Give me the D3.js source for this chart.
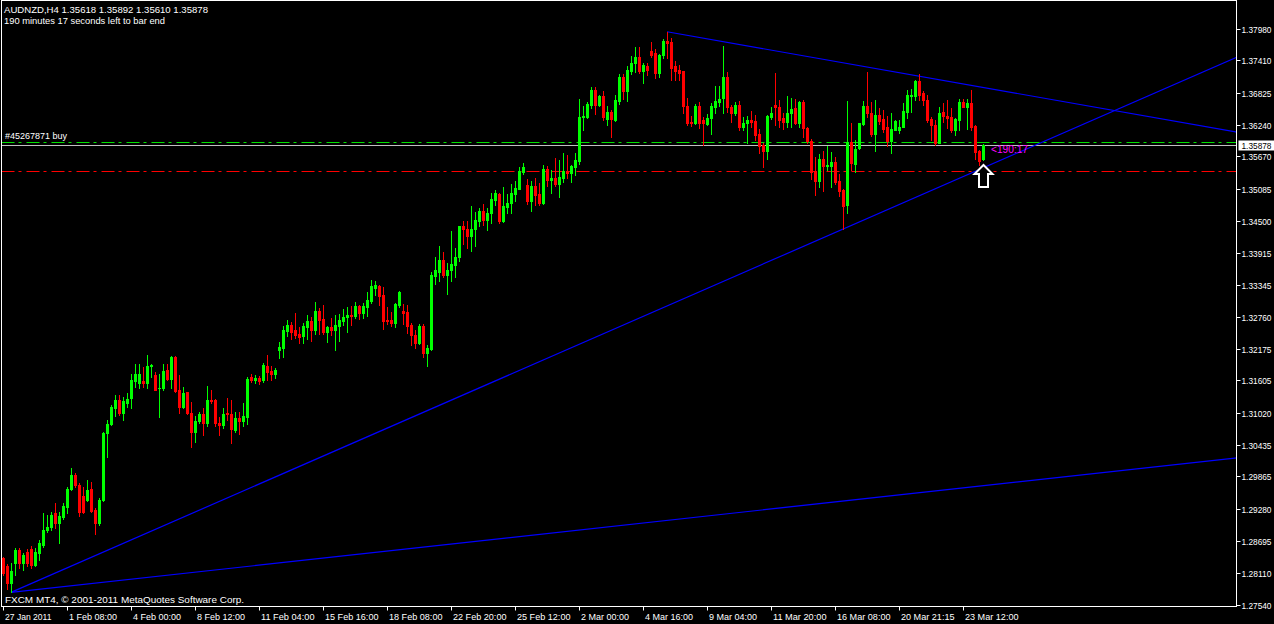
<!DOCTYPE html>
<html><head><meta charset="utf-8">
<script src="https://cdn.jsdelivr.net/npm/d3@7"></script>
<style>html,body{margin:0;padding:0;background:#000;overflow:hidden}svg{display:block}</style>
</head><body>
<svg id="c" width="1274" height="624"></svg>
<script>
// ---- data (AUDNZD H4) ----
const open=[1.2838,1.2823,1.2793,1.2829,1.2853,1.2829,1.2850,1.2854,1.2826,1.2847,
1.2862,1.2889,1.2895,1.2920,1.2902,1.2913,1.2931,1.2963,1.2989,1.2970,
1.2950,1.2944,1.2964,1.2926,1.2901,1.2944,1.3065,1.3081,1.3110,1.3125,
1.3101,1.3120,1.3128,1.3160,1.3155,1.3160,1.3155,1.3187,1.3170,1.3146,
1.3146,1.3179,1.3163,1.3203,1.3143,1.3113,1.3139,1.3101,1.3067,1.3086,
1.3100,1.3084,1.3125,1.3125,1.3084,1.3080,1.3102,1.3100,1.3071,1.3092,
1.3086,1.3095,1.3167,1.3161,1.3165,1.3161,1.3187,1.3178,1.3172,1.3216,
1.3220,1.3250,1.3261,1.3252,1.3245,1.3241,1.3258,1.3268,1.3252,1.3287,
1.3272,1.3249,1.3257,1.3252,1.3260,1.3268,1.3275,1.3279,1.3278,1.3295,
1.3282,1.3294,1.3305,1.3329,1.3332,1.3316,1.3270,1.3270,1.3265,1.3297,
1.3287,1.3285,1.3261,1.3243,1.3228,1.3259,1.3211,1.3217,1.3350,1.3358,
1.3379,1.3352,1.3360,1.3370,1.3384,1.3441,1.3436,1.3423,1.3436,1.3450,
1.3468,1.3452,1.3464,1.3488,1.3499,1.3450,1.3476,1.3482,1.3499,1.3508,
1.3539,1.3515,1.3486,1.3513,1.3499,1.3482,1.3544,1.3524,1.3527,1.3517,
1.3528,1.3540,1.3536,1.3548,1.3559,1.3638,1.3639,1.3660,1.3687,1.3660,
1.3677,1.3635,1.3648,1.3633,1.3668,1.3711,1.3686,1.3721,1.3736,1.3747,
1.3722,1.3731,1.3758,1.3755,1.3719,1.3750,1.3776,1.3774,1.3731,1.3724,
1.3721,1.3658,1.3630,1.3628,1.3658,1.3633,1.3626,1.3636,1.3657,1.3666,
1.3672,1.3711,1.3656,1.3646,1.3660,1.3620,1.3627,1.3633,1.3632,1.3608,
1.3588,1.3577,1.3639,1.3660,1.3657,1.3637,1.3630,1.3645,1.3654,1.3628,
1.3666,1.3618,1.3595,1.3541,1.3523,1.3562,1.3550,1.3550,1.3557,1.3523,
1.3506,1.3479,1.3593,1.3554,1.3582,1.3626,1.3658,1.3646,1.3608,1.3642,
1.3634,1.3620,1.3595,1.3615,1.3615,1.3621,1.3648,1.3677,1.3677,1.3704,
1.3681,1.3670,1.3634,1.3624,1.3592,1.3648,1.3640,1.3639,1.3614,1.3633,
1.3666,1.3657,1.3664,1.3622,1.3577,1.35618];
const high=[1.2841,1.2827,1.2830,1.2856,1.2856,1.2847,1.2854,1.2860,1.2856,1.2871,
1.2920,1.2916,1.2922,1.2938,1.2921,1.2938,1.2968,1.3001,1.2993,1.2974,
1.2968,1.2980,1.2977,1.2929,1.2947,1.3067,1.3089,1.3116,1.3134,1.3134,
1.3131,1.3137,1.3173,1.3190,1.3191,1.3185,1.3207,1.3190,1.3176,1.3173,
1.3191,1.3191,1.3205,1.3205,1.3170,1.3149,1.3140,1.3122,1.3096,1.3104,
1.3110,1.3150,1.3143,1.3126,1.3095,1.3110,1.3128,1.3125,1.3104,1.3104,
1.3120,1.3167,1.3172,1.3170,1.3168,1.3192,1.3207,1.3187,1.3183,1.3231,
1.3259,1.3270,1.3266,1.3282,1.3257,1.3265,1.3279,1.3276,1.3303,1.3292,
1.3297,1.3259,1.3274,1.3279,1.3281,1.3290,1.3294,1.3296,1.3303,1.3297,
1.3301,1.3321,1.3343,1.3341,1.3334,1.3330,1.3294,1.3285,1.3301,1.3323,
1.3299,1.3297,1.3265,1.3252,1.3263,1.3263,1.3225,1.3357,1.3384,1.3404,
1.3393,1.3373,1.3432,1.3401,1.3441,1.3450,1.3450,1.3477,1.3466,1.3473,
1.3480,1.3473,1.3500,1.3506,1.3500,1.3511,1.3499,1.3517,1.3522,1.3548,
1.3555,1.3526,1.3522,1.3528,1.3519,1.3551,1.3550,1.3542,1.3564,1.3560,
1.3573,1.3569,1.3551,1.3573,1.3671,1.3658,1.3666,1.3693,1.3693,1.3678,
1.3686,1.3658,1.3651,1.3678,1.3716,1.3716,1.3731,1.3749,1.3765,1.3765,
1.3736,1.3736,1.3774,1.3762,1.3753,1.3780,1.3793,1.3782,1.3740,1.3733,
1.3722,1.3673,1.3640,1.3662,1.3666,1.3638,1.3644,1.3664,1.3695,1.3695,
1.3768,1.3720,1.3660,1.3666,1.3667,1.3638,1.3640,1.3649,1.3642,1.3616,
1.3591,1.3642,1.3656,1.3718,1.3669,1.3645,1.3677,1.3672,1.3671,1.3668,
1.3669,1.3621,1.3598,1.3566,1.3571,1.3577,1.3586,1.3574,1.3566,1.3535,
1.3507,1.3667,1.3627,1.3597,1.3628,1.3668,1.3720,1.3666,1.3669,1.3654,
1.3651,1.3640,1.3645,1.3633,1.3633,1.3663,1.3687,1.3690,1.3706,1.3716,
1.3686,1.3678,1.3639,1.3633,1.3656,1.3663,1.3669,1.3654,1.3636,1.3671,
1.3671,1.3671,1.3687,1.3624,1.3578,1.35892];
const low=[1.2808,1.2783,1.2776,1.2808,1.2820,1.2817,1.2823,1.2820,1.2823,1.2834,
1.2858,1.2886,1.2889,1.2892,1.2866,1.2909,1.2920,1.2962,1.2968,1.2915,
1.2920,1.2941,1.2922,1.2882,1.2898,1.2941,1.3021,1.3080,1.3096,1.3098,
1.3088,1.3113,1.3110,1.3149,1.3146,1.3149,1.3146,1.3167,1.3143,1.3094,
1.3144,1.3161,1.3146,1.3140,1.3101,1.3110,1.3100,1.3039,1.3049,1.3083,
1.3061,1.3077,1.3119,1.3078,1.3061,1.3075,1.3089,1.3047,1.3067,1.3063,
1.3077,1.3081,1.3158,1.3156,1.3154,1.3158,1.3161,1.3161,1.3165,1.3201,
1.3203,1.3241,1.3236,1.3238,1.3228,1.3228,1.3236,1.3232,1.3245,1.3245,
1.3245,1.3231,1.3243,1.3216,1.3232,1.3261,1.3248,1.3261,1.3274,1.3272,
1.3274,1.3277,1.3301,1.3316,1.3297,1.3254,1.3263,1.3260,1.3257,1.3294,
1.3263,1.3247,1.3225,1.3219,1.3227,1.3203,1.3187,1.3216,1.3335,1.3341,
1.3348,1.3317,1.3341,1.3348,1.3377,1.3408,1.3401,1.3395,1.3404,1.3441,
1.3442,1.3433,1.3446,1.3479,1.3446,1.3448,1.3464,1.3464,1.3486,1.3508,
1.3535,1.3480,1.3467,1.3479,1.3479,1.3480,1.3514,1.3500,1.3513,1.3493,
1.3520,1.3528,1.3520,1.3533,1.3553,1.3615,1.3637,1.3655,1.3644,1.3658,
1.3633,1.3624,1.3602,1.3631,1.3662,1.3671,1.3667,1.3716,1.3720,1.3718,
1.3700,1.3715,1.3747,1.3709,1.3711,1.3745,1.3745,1.3706,1.3706,1.3706,
1.3646,1.3624,1.3622,1.3626,1.3618,1.3588,1.3624,1.3607,1.3646,1.3658,
1.3646,1.3647,1.3629,1.3642,1.3615,1.3615,1.3591,1.3621,1.3597,1.3573,
1.3547,1.3563,1.3634,1.3624,1.3621,1.3616,1.3621,1.3621,1.3626,1.3620,
1.3602,1.3592,1.3525,1.3497,1.3512,1.3505,1.3543,1.3512,1.3517,1.3495,
1.3435,1.3464,1.3543,1.3539,1.3580,1.3624,1.3638,1.3603,1.3577,1.3626,
1.3612,1.3586,1.3573,1.3615,1.3609,1.3620,1.3636,1.3648,1.3669,1.3669,
1.3660,1.3630,1.3597,1.3588,1.3591,1.3630,1.3618,1.3612,1.3606,1.3615,
1.3656,1.3616,1.3615,1.3563,1.3551,1.35610];
const close=[1.2811,1.2793,1.2814,1.2853,1.2829,1.2844,1.2829,1.2826,1.2850,1.2865,
1.2890,1.2895,1.2916,1.2902,1.2915,1.2933,1.2963,1.2989,1.2971,1.2922,
1.2922,1.2962,1.2924,1.2901,1.2944,1.3065,1.3081,1.3113,1.3125,1.3101,
1.3124,1.3126,1.3161,1.3172,1.3173,1.3155,1.3187,1.3189,1.3144,1.3147,
1.3178,1.3163,1.3203,1.3142,1.3113,1.3138,1.3101,1.3067,1.3087,1.3100,
1.3084,1.3125,1.3123,1.3083,1.3080,1.3100,1.3100,1.3072,1.3092,1.3086,
1.3096,1.3163,1.3161,1.3165,1.3160,1.3189,1.3176,1.3172,1.3179,1.3222,
1.3252,1.3261,1.3249,1.3243,1.3240,1.3259,1.3268,1.3252,1.3287,1.3270,
1.3249,1.3257,1.3252,1.3261,1.3270,1.3276,1.3279,1.3278,1.3295,1.3282,
1.3295,1.3306,1.3331,1.3334,1.3314,1.3269,1.3268,1.3264,1.3299,1.3321,
1.3282,1.3260,1.3243,1.3228,1.3259,1.3210,1.3219,1.3352,1.3360,1.3379,
1.3352,1.3361,1.3372,1.3385,1.3441,1.3436,1.3423,1.3436,1.3452,1.3468,
1.3452,1.3464,1.3489,1.3500,1.3450,1.3477,1.3483,1.3500,1.3509,1.3540,
1.3548,1.3486,1.3513,1.3497,1.3482,1.3544,1.3524,1.3527,1.3517,1.3530,
1.3540,1.3537,1.3549,1.3560,1.3638,1.3640,1.3662,1.3687,1.3660,1.3677,
1.3639,1.3648,1.3634,1.3669,1.3711,1.3686,1.3724,1.3737,1.3748,1.3722,
1.3733,1.3724,1.3751,1.3719,1.3751,1.3776,1.3773,1.3728,1.3722,1.3719,
1.3659,1.3628,1.3628,1.3658,1.3628,1.3627,1.3636,1.3658,1.3667,1.3671,
1.3711,1.3656,1.3646,1.3660,1.3621,1.3628,1.3633,1.3630,1.3606,1.3585,
1.3577,1.3640,1.3645,1.3657,1.3633,1.3630,1.3645,1.3653,1.3628,1.3666,
1.3618,1.3594,1.3539,1.3523,1.3562,1.3550,1.3551,1.3557,1.3521,1.3504,
1.3477,1.3593,1.3555,1.3580,1.3627,1.3658,1.3646,1.3608,1.3642,1.3632,
1.3616,1.3595,1.3616,1.3631,1.3621,1.3649,1.3678,1.3678,1.3704,1.3678,
1.3669,1.3633,1.3624,1.3592,1.3645,1.3640,1.3637,1.3614,1.3634,1.3666,
1.3657,1.3663,1.3621,1.3575,1.3559,1.35878];

const xTickBars=[0,16,32,48,64,80,96,112,128,144,160,176,192,208,224,240];
const xTickLabels=["27 Jan 2011","1 Feb 08:00","4 Feb 00:00","8 Feb 12:00","11 Feb 04:00","15 Feb 16:00","18 Feb 08:00","22 Feb 20:00","25 Feb 12:00","2 Mar 00:00","4 Mar 16:00","9 Mar 04:00","11 Mar 20:00","16 Mar 08:00","20 Mar 21:15","23 Mar 12:00"];
const yTickValues=[1.37980,1.37410,1.36825,1.36240,1.35670,1.35085,1.34500,1.33915,1.33345,1.32760,1.32175,1.31605,1.31020,1.30435,1.29865,1.29280,1.28695,1.28110,1.27540];
// trendlines: [startBar, startPrice] and a second point [bar, price]
const trendStart=[[2,1.2776],[2,1.2776],[166,1.3793]];
const trendThrough=[[210,1.3435],[245,1.29695],[245,1.3692]];
const bidPrice=1.35878, orderPrice=1.35925, stopPrice=1.35399;
const orderLabel="#45267871 buy";
const arrowBar=245, arrowPrice=1.3551;
const timerText="<190:17";
const headerLines=["AUDNZD,H4  1.35618 1.35892 1.35610 1.35878","190 minutes 17 seconds left to bar end"];
const footer="FXCM MT4, \u00A9 2001-2011 MetaQuotes Software Corp.";

// ---- drawing ----
const svg=d3.select("#c");
const W=1274,H=624, L=1.5, T=0.5, R=1236.5, B=606.5;
const x=d3.scaleLinear().domain([0,1]).range([3,7]);
const y=d3.scaleLinear().domain([1.2754,1.3798]).range([604.5,29]);
const FONT="'Liberation Sans', Arial, sans-serif";
const py=v=>Math.round(y(v));

svg.append("rect").attr("width",W).attr("height",H).attr("fill","#000");
svg.append("defs").append("clipPath").attr("id","clip").append("rect")
  .attr("x",L).attr("y",T).attr("width",R-L).attr("height",B-T);
const plot=svg.append("g").attr("clip-path","url(#clip)");

// horizontal lines
plot.append("line").attr("x1",L).attr("x2",R).attr("y1",py(stopPrice)+0.5).attr("y2",py(stopPrice)+0.5)
  .attr("stroke","#FF0000").attr("stroke-dasharray","13,4,3,5");
plot.append("line").attr("x1",L).attr("x2",R).attr("y1",py(orderPrice)+0.5).attr("y2",py(orderPrice)+0.5)
  .attr("stroke","#00E000").attr("stroke-dasharray","13,4,3,5");
plot.append("line").attr("x1",L).attr("x2",R).attr("y1",py(bidPrice)+0.5).attr("y2",py(bidPrice)+0.5)
  .attr("stroke","#C0C0C0");

// trendlines as rays
trendStart.forEach((s,k)=>{
  const t=trendThrough[k];
  const x1=x(s[0]), y1=y(s[1]), x2=x(t[0]), y2=y(t[1]);
  const xe=R+10, ye=y1+(y2-y1)*(xe-x1)/(x2-x1);
  plot.append("line").attr("x1",x1).attr("y1",y1).attr("x2",xe).attr("y2",ye)
    .attr("stroke","#0000FF").attr("stroke-width",1.2);
});

// candles
const idx=d3.range(open.length);
const cg=plot.append("g");
idx.forEach(i=>{
  const up=close[i]>=open[i];
  const col=up?"#00FF00":"#FF0000";
  const cx=Math.round(x(i));
  cg.append("line").attr("x1",cx+0.5).attr("x2",cx+0.5)
    .attr("y1",py(high[i])).attr("y2",py(low[i])+1).attr("stroke",col);
  const yt=py(Math.max(open[i],close[i])), yb=py(Math.min(open[i],close[i]));
  cg.append("rect").attr("x",cx-1).attr("width",3).attr("y",yt)
    .attr("height",Math.max(1,yb-yt+1)).attr("fill",col);
});

// order label
plot.append("text").attr("x",5).attr("y",py(orderPrice)-3).text(orderLabel)
  .attr("fill","#FFFFFF").attr("font-family",FONT).attr("font-size",9);

// arrow
const ax=Math.round(x(arrowBar))+0.5, ay=py(arrowPrice);
const arrowPts=[[0,0],[9,9],[4.5,9],[4.5,22],[-4.5,22],[-4.5,9],[-9,9]];
plot.append("polygon").attr("points",arrowPts.map(p=>[ax+p[0],ay+p[1]].join(",")).join(" "))
  .attr("fill","#000").attr("stroke","#FFFFFF").attr("stroke-width",2);
plot.append("text").attr("x",x(arrowBar)+8).attr("y",py(bidPrice)+8).text(timerText)
  .attr("fill","#FF00FF").attr("font-family",FONT).attr("font-size",10.5)
  .attr("textLength",37).attr("lengthAdjust","spacingAndGlyphs");

// frame
svg.append("rect").attr("x",L).attr("y",T).attr("width",R-L).attr("height",B-T)
  .attr("fill","none").attr("stroke","#FFFFFF");

// right axis
const ra=svg.append("g");
const AXF=8.8;
yTickValues.forEach(v=>{
  const yy=py(v)+0.5;
  ra.append("line").attr("x1",R).attr("x2",R+4).attr("y1",yy).attr("y2",yy).attr("stroke","#FFFFFF");
  ra.append("text").attr("x",1241.5).attr("y",yy).attr("dy","0.35em").text(v.toFixed(5))
    .attr("fill","#FFFFFF").attr("font-family",FONT).attr("font-size",AXF)
    .attr("textLength",30).attr("lengthAdjust","spacingAndGlyphs");
});
// bid price box
const by=py(bidPrice)+0.5;
ra.append("rect").attr("x",1238.5).attr("y",by-5).attr("width",35.5).attr("height",10).attr("fill","#FFFFFF");
ra.append("text").attr("x",1241.5).attr("y",by).attr("dy","0.35em").text(bidPrice.toFixed(5))
  .attr("fill","#000").attr("font-family",FONT).attr("font-size",AXF)
  .attr("textLength",30).attr("lengthAdjust","spacingAndGlyphs");

// bottom axis
const ba=svg.append("g");
xTickBars.forEach((b,k)=>{
  const xx=Math.round(x(b))+0.5;
  ba.append("line").attr("x1",xx).attr("x2",xx).attr("y1",B).attr("y2",B+4).attr("stroke","#FFFFFF");
  const lab=xTickLabels[k];
  const w=lab==="27 Jan 2011"?46.5:(lab.length>=12?53.5:48);
  ba.append("text").attr("x",xx+1.5).attr("y",620).text(lab)
    .attr("fill","#FFFFFF").attr("font-family",FONT).attr("font-size",9.5)
    .attr("textLength",w).attr("lengthAdjust","spacingAndGlyphs");
});

// header + footer
headerLines.forEach((t,k)=>{
  svg.append("text").attr("x",4).attr("y",12.5+k*11).text(t)
    .attr("fill","#FFFFFF").attr("font-family",FONT).attr("font-size",9.5)
    .attr("textLength",k===0?204:161).attr("lengthAdjust","spacingAndGlyphs");
});
svg.append("text").attr("x",5).attr("y",603).text(footer)
  .attr("fill","#FFFFFF").attr("font-family",FONT).attr("font-size",9.5)
  .attr("textLength",239).attr("lengthAdjust","spacingAndGlyphs");
</script>
</body></html>
